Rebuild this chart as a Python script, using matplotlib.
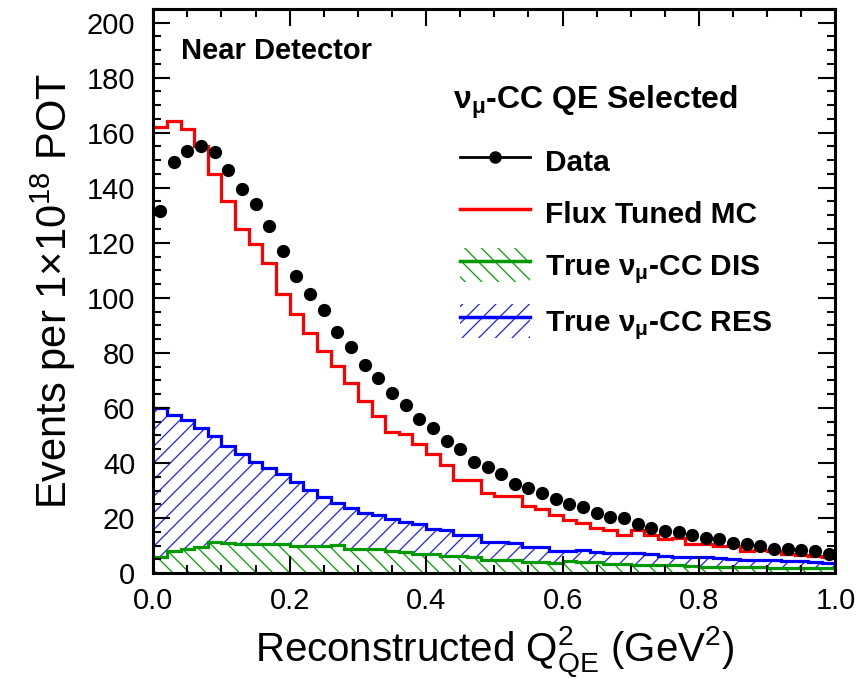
import numpy as np
import matplotlib
matplotlib.use("Agg")
import matplotlib.pyplot as plt
from matplotlib.lines import Line2D
from matplotlib.patches import Patch
from matplotlib.legend_handler import HandlerTuple

plt.rcParams['font.family'] = ['Liberation Sans', 'DejaVu Sans']
plt.rcParams['mathtext.fontset'] = 'custom'
plt.rcParams['mathtext.rm'] = 'Liberation Sans'
plt.rcParams['mathtext.it'] = 'Liberation Sans:italic'
plt.rcParams['mathtext.bf'] = 'Liberation Sans:bold'
plt.rcParams['mathtext.default'] = 'regular'
plt.rcParams['hatch.linewidth'] = 0.9

# 50 bins of 0.02 GeV^2
edges = np.linspace(0.0, 1.0, 51)
centers = 0.5 * (edges[:-1] + edges[1:])

data = [131.5, 149.5, 153.5, 155.0, 153.0, 146.5, 139.5, 134.0, 126.0, 117.0,
        108.0, 101.5, 95.5, 87.5, 82.0, 75.5, 71.0, 65.5, 61.0, 56.0,
        52.6, 48.1, 44.9, 40.5, 38.7, 35.9, 32.4, 30.9, 29.2, 26.8,
        25.2, 24.0, 21.8, 20.4, 20.0, 18.0, 16.4, 15.2, 15.0, 13.7,
        12.8, 12.2, 11.0, 10.5, 9.9, 8.9, 8.7, 8.3, 8.0, 7.1]

mc = [162.0, 164.1, 161.2, 155.0, 145.1, 135.3, 124.9, 119.5, 112.8, 101.5,
      94.3, 87.3, 80.8, 75.2, 69.2, 62.6, 57.1, 51.1, 50.5, 46.9,
      43.3, 39.1, 33.9, 33.9, 29.2, 28.0, 28.0, 24.2, 23.1, 21.2,
      19.2, 18.2, 16.4, 15.8, 14.0, 15.6, 13.7, 12.2, 12.9, 10.7,
      10.5, 9.9, 9.7, 8.0, 8.3, 8.0, 6.9, 6.5, 6.2, 5.8]

res = [60.0, 57.5, 55.5, 52.8, 49.9, 46.0, 43.4, 40.4, 38.1, 36.1,
       33.0, 30.2, 27.5, 25.5, 23.5, 22.0, 21.0, 19.8, 18.6, 18.0,
       16.0, 15.8, 13.7, 13.7, 11.3, 11.3, 11.0, 9.5, 9.5, 8.1,
       8.1, 8.3, 7.8, 7.2, 7.2, 7.2, 7.0, 6.2, 6.0, 6.0,
       5.8, 5.4, 5.2, 4.8, 4.8, 4.6, 4.5, 4.4, 3.9, 3.8]

dis = [5.9, 8.0, 8.9, 9.6, 11.3, 10.8, 10.6, 10.7, 10.4, 10.6,
       9.8, 9.8, 9.8, 10.2, 8.9, 8.6, 8.8, 7.9, 7.7, 7.1,
       6.9, 6.1, 6.1, 5.7, 4.7, 4.7, 4.7, 4.1, 4.1, 3.5,
       4.3, 3.9, 3.9, 3.3, 3.3, 2.9, 2.9, 2.9, 2.8, 2.5,
       2.3, 2.2, 2.2, 2.1, 2.1, 2.0, 2.0, 1.9, 2.0, 1.9]

fig = plt.figure(figsize=(8.56, 6.79), dpi=100)
ax = fig.add_axes([0.179, 0.156, 0.797, 0.831])

# hatched true-interaction components
ax.stairs(dis, edges, baseline=0, fill=True, facecolor='none',
          edgecolor='#00a000', hatch='\\\\', linewidth=0)
ax.stairs(res, edges, baseline=dis, fill=True, facecolor='none',
          edgecolor='#2020ff', hatch='//', linewidth=0)
ax.stairs(dis, edges, baseline=None, color='#009900', linewidth=2.3)
ax.stairs(res, edges, baseline=None, color='#0000ff', linewidth=2.3)
ax.stairs(mc, edges, baseline=None, color='#ff0000', linewidth=2.3)
ax.plot(centers, data, 'o', color='black', markersize=8.5, zorder=5)

ax.set_xlim(0, 1.0)
ax.set_ylim(0, 205)
ax.set_xticks(np.arange(0, 1.01, 0.2))
ax.set_xticks(np.arange(0, 1.01, 0.05), minor=True)
ax.set_yticks(np.arange(0, 201, 20))
ax.set_yticks(np.arange(0, 206, 5), minor=True)
ax.xaxis.set_major_formatter(matplotlib.ticker.FormatStrFormatter('%.1f'))
ax.tick_params(which='both', direction='in', top=True, right=True,
               labelsize=21, width=1.5)
ax.tick_params(which='major', length=12)
ax.tick_params(which='minor', length=6)
ax.tick_params(axis='x', pad=10)
ax.tick_params(axis='y', pad=13)
for s in ax.spines.values():
    s.set_linewidth(2.2)

ax.set_xlabel('Reconstructed Q$^2_{QE}$ (GeV$^2$)', fontsize=29, labelpad=7)
ax.set_ylabel('Events per 1$\\times$10$^{18}$ POT', fontsize=30, labelpad=6)

ax.text(0.04, 0.925, 'Near Detector', transform=ax.transAxes,
        fontsize=21, fontweight='bold', va='center')
ax.text(0.44, 0.835, '$\\nu_{\\mu}$-CC QE Selected', transform=ax.transAxes,
        fontsize=23, fontweight='bold', va='center')

h_data = Line2D([], [], color='black', marker='o', markersize=8, linewidth=2)
h_mc = Line2D([], [], color='#ff0000', linewidth=2.5)
h_dis = (Patch(facecolor='none', edgecolor='#00a000', hatch='\\\\', linewidth=0),
         Line2D([], [], color='#009900', linewidth=2.5))
h_res = (Patch(facecolor='none', edgecolor='#2020ff', hatch='//', linewidth=0),
         Line2D([], [], color='#0000ff', linewidth=2.5))
leg = ax.legend([h_data, h_mc, h_dis, h_res],
                ['Data', 'Flux Tuned MC', 'True $\\nu_{\\mu}$-CC DIS',
                 'True $\\nu_{\\mu}$-CC RES'],
                handler_map={tuple: HandlerTuple(ndivide=1, pad=0)},
                loc='upper left', bbox_to_anchor=(0.52, 0.81),
                bbox_transform=fig.transFigure, frameon=False,
                prop={'size': 21.5, 'weight': 'bold'}, borderpad=0,
                handlelength=2.35, handleheight=1.35, handletextpad=0.5,
                labelspacing=0.62)

fig.savefig('out.png', dpi=100)
